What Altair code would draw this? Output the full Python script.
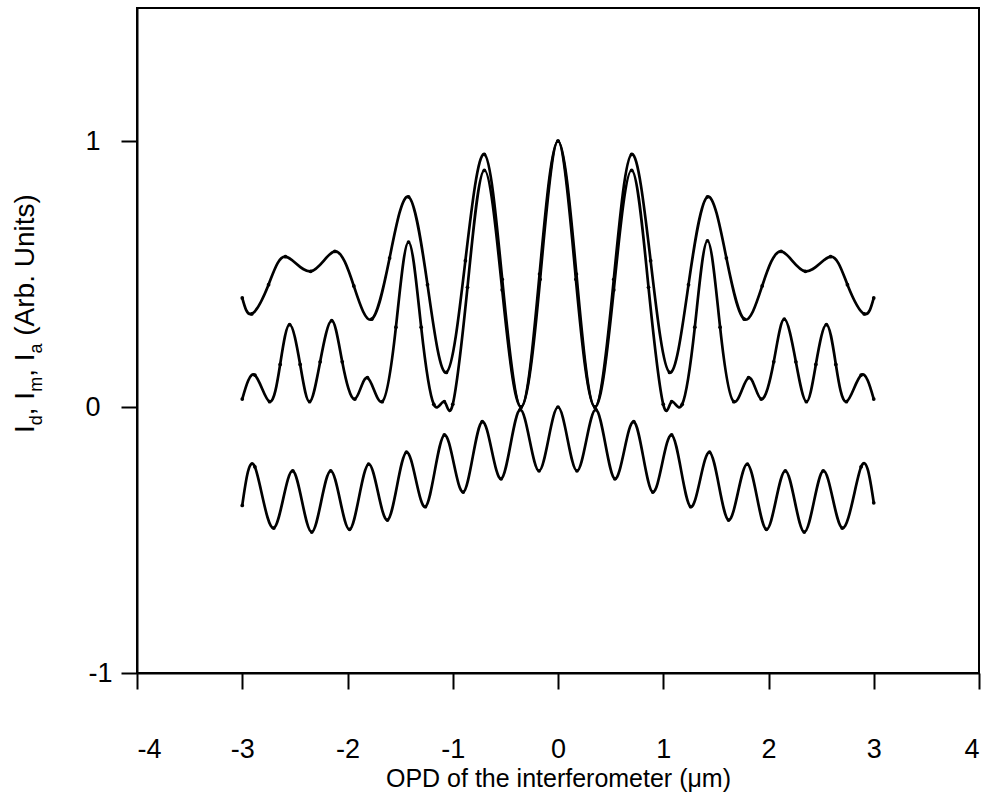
import altair as alt
import pandas as pd

# ---- data ----
x_d = [-3.0, -2.91, -2.75, -2.59, -2.35, -2.12, -1.94, -1.77, -1.60, -1.42, -1.24, -1.06, -0.88, -0.70,
       -0.53, -0.35, -0.175, 0.0, 0.175, 0.35, 0.53, 0.70, 0.88, 1.06, 1.24, 1.42, 1.60, 1.77, 1.94,
       2.12, 2.35, 2.59, 2.75, 2.91, 3.0]
y_d = [0.41, 0.35, 0.46, 0.565, 0.51, 0.585, 0.455, 0.33, 0.56, 0.79, 0.46, 0.13, 0.55, 0.95,
       0.48, 0.0, 0.5, 1.0, 0.5, 0.0, 0.48, 0.95, 0.55, 0.13, 0.46, 0.79, 0.56, 0.33, 0.455,
       0.585, 0.51, 0.565, 0.46, 0.35, 0.41]

x_m = [-3.0, -2.88, -2.74, -2.64, -2.55, -2.45, -2.36, -2.26, -2.15, -2.05, -1.93, -1.81, -1.67,
       -1.54, -1.42, -1.30, -1.18, -1.08, -1.0, -0.86, -0.70, -0.53, -0.35, -0.17, 0.0,
       0.17, 0.35, 0.53, 0.70, 0.86, 1.0, 1.08, 1.18, 1.30, 1.42, 1.54, 1.67, 1.81, 1.93,
       2.05, 2.15, 2.26, 2.36, 2.45, 2.55, 2.64, 2.74, 2.88, 3.0]
y_m = [0.03, 0.12, 0.02, 0.16, 0.31, 0.16, 0.02, 0.17, 0.325, 0.17, 0.03, 0.11, 0.02,
       0.30, 0.62, 0.30, 0.01, 0.02, 0.01, 0.45, 0.89, 0.44, 0.0, 0.48, 1.0,
       0.48, 0.0, 0.44, 0.89, 0.45, 0.01, 0.02, 0.01, 0.30, 0.625, 0.30, 0.02, 0.11, 0.03,
       0.17, 0.33, 0.17, 0.02, 0.16, 0.31, 0.16, 0.02, 0.12, 0.03]

x_a = [-3.0, -2.88, -2.70, -2.52, -2.34, -2.16, -1.98, -1.80, -1.62, -1.44, -1.26, -1.08, -0.90,
       -0.72, -0.54, -0.36, -0.18, 0.0, 0.18, 0.36, 0.54, 0.72, 0.90, 1.08, 1.26, 1.44, 1.62,
       1.80, 1.98, 2.16, 2.34, 2.52, 2.70, 2.88, 3.0]
y_a = [-0.37, -0.225, -0.455, -0.24, -0.47, -0.24, -0.46, -0.215, -0.425, -0.17, -0.375, -0.105,
       -0.32, -0.055, -0.27, -0.01, -0.24, 0.0, -0.24, -0.01, -0.27, -0.055, -0.32, -0.105,
       -0.375, -0.17, -0.425, -0.215, -0.46, -0.24, -0.47, -0.24, -0.455, -0.225, -0.36]

x_ticks = [-4, -3, -2, -1, 0, 1, 2, 3, 4]
y_ticks = [-1, 0, 1]

rows = []
for name, xs, ys in [("Id", x_d, y_d), ("Im", x_m, y_m), ("Ia", x_a, y_a)]:
    for xv, yv in zip(xs, ys):
        rows.append({"curve": name, "x": xv, "y": yv})
df = pd.DataFrame(rows)

FONT = "Liberation Sans"
W, H = 842, 665

label_expr = "datum.value < 0 ? '-' + abs(datum.value) : '' + datum.value"

xscale = alt.Scale(domain=[-4, 4], nice=False, zero=False)
yscale = alt.Scale(domain=[-1, 1.5], nice=False, zero=False)

xaxis = alt.Axis(values=x_ticks, title="OPD of the interferometer (\u03bcm)", labelExpr=label_expr,
                 tickSize=16, labelPadding=47, grid=False, titleY=105, titleBaseline="middle",
                 titleFontSize=25)
yaxis = alt.Axis(values=y_ticks, title=None, labelExpr=label_expr, tickSize=16, labelPadding=21,
                 grid=False, labelBaseline="middle",
                 labelAlign={"condition": {"test": "datum.value < 0", "value": "center"},
                             "value": "right"})

base = alt.Chart(df).encode(
    x=alt.X("x:Q", scale=xscale, axis=xaxis),
    y=alt.Y("y:Q", scale=yscale, axis=yaxis),
    detail="curve:N",
)
lines = base.mark_line(color="black", strokeWidth=2.7, interpolate="natural")
pts = base.mark_point(filled=True, color="black", size=14, opacity=1)

# ---- rotated y title with subscripts, built from text pieces ----
F, f = 28, 18
widths = {"I": 278, "d": 556, "m": 833, "a": 556, ",": 278, " ": 278, "(": 333, ")": 333,
          "A": 667, "r": 333, "b": 556, ".": 278, "U": 722, "n": 556, "i": 222, "t": 278, "s": 500}
# (text, font size, baseline shift, leading gap in em/1000 of the piece's font)
pieces = [("I", F, 0, 0), ("d", f, 8, 0), (",", F, 0, 0), ("I", F, 0, 278), ("m", f, 8, 0),
          (",", F, 0, 0), ("I", F, 0, 278), ("a", f, 8, 0), ("(Arb. Units)", F, 0, 278)]
base_x = 34 - 137
y_pos = 433 - 8
title_layers = []
for txt, fs, shift, gap in pieces:
    y_pos -= gap * fs / 1000.0
    title_layers.append(
        alt.Chart(pd.DataFrame({"t": [txt]})).mark_text(
            angle=270, align="left", baseline="alphabetic", font=FONT, fontSize=fs, color="black"
        ).encode(text="t:N", x=alt.value(base_x + shift), y=alt.value(y_pos))
    )
    y_pos -= sum(widths[c] for c in txt) * fs / 1000.0

chart = alt.layer(lines, pts, *title_layers).properties(
    width=W, height=H,
    autosize=alt.AutoSizeParams(type="none"),
    padding={"left": 137, "top": 8, "right": 12, "bottom": 131},
).configure_view(stroke="black", strokeWidth=2).configure_axis(
    domainColor="black", tickColor="black", labelColor="black", titleColor="black",
    labelFont=FONT, titleFont=FONT, labelFontSize=27, titleFontSize=25, tickWidth=2,
    domainWidth=2, titleFontWeight="normal",
)

chart.save("out.html", embed_options={"renderer": "svg", "actions": False})
